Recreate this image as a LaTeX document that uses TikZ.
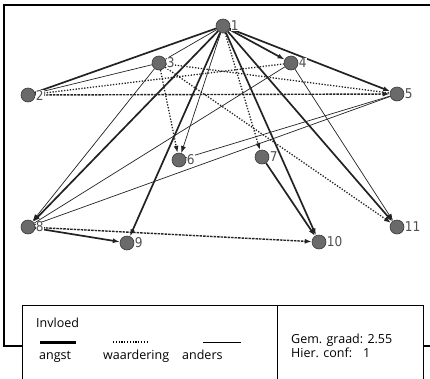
\documentclass[tikz,border=0pt]{standalone}
\usepackage{fontspec}
\setmainfont{Open Sans}
\newfontfamily\lblfont[FakeStretch=0.9]{DejaVu Sans}
\usetikzlibrary{arrows.meta}
\pgfdeclarelayer{bg}
\pgfsetlayers{bg,main}
\definecolor{nodegray}{HTML}{6A6A6A}
\definecolor{nodeedge}{HTML}{3A3A3A}
\definecolor{lblgray}{HTML}{505050}
\definecolor{edgecol}{HTML}{222222}
\begin{document}
\begin{tikzpicture}[x=1pt,y=-1pt,
  vtx/.style={circle, fill=nodegray, draw=nodeedge, line width=0.6pt, minimum size=14pt, inner sep=0pt},
  lbl/.style={fill=white, inner sep=0.4pt, text=lblgray, font=\lblfont\fontsize{13.5}{13.5}\selectfont},
  angst/.style={line width=1.7pt, draw=edgecol},
  anders/.style={line width=0.7pt, draw=edgecol},
  waard/.style={line width=1.3pt, draw=edgecol, dash pattern=on 1.3pt off 1.6pt},
  waarddash/.style={line width=1.4pt, draw=edgecol, dash pattern=on 2.5pt off 1pt},
  arr/.style={-{Latex[length=7pt,width=5pt]}},
  legtext/.style={font=\fontsize{12.5}{14}\selectfont, inner sep=0pt, anchor=base west},
]
\useasboundingbox (0,0) rectangle (430,378);
\clip (0,0) rectangle (430,378);

\node[vtx, label={[lbl]right:1}]  (n1)  at (223,26) {};
\node[vtx, label={[lbl]right:2}]  (n2)  at (28,95) {};
\node[vtx, label={[lbl]right:3}]  (n3)  at (159,63) {};
\node[vtx, label={[lbl]right:4}]  (n4)  at (291,63) {};
\node[vtx, label={[lbl]right:5}]  (n5)  at (397,94) {};
\node[vtx, label={[lbl]right:6}]  (n6)  at (179,160) {};
\node[vtx, label={[lbl]right:7}]  (n7)  at (262,157) {};
\node[vtx, label={[lbl]right:8}]  (n8)  at (28,227) {};
\node[vtx, label={[lbl]right:9}]  (n9)  at (127,243) {};
\node[vtx, label={[lbl]right:10}] (n10) at (319,242) {};
\node[vtx, label={[lbl]right:11}] (n11) at (397,227) {};

\begin{pgfonlayer}{bg}
\draw[line width=1.4pt] (440,5) -- (4,5) -- (4,346) -- (440,346);
\draw[angst] (n1) -- (n2);
\draw[anders] (n1) -- (n3);
\draw[angst,arr] (n1) -- (n4);
\draw[angst,arr] (n1) -- (n5);
\draw[anders,arr] (n1) -- (n6);
\draw[waard,arr] (n1) -- (n7);
\draw[angst,arr] (n1) -- (n8);
\draw[angst,arr] (n1) -- (n9);
\draw[angst,arr] (n1) -- (n10);
\draw[angst,arr] (n1) -- (n11);
\draw[anders] (n2) -- (n3);
\draw[waard] (n2) -- (n4);
\draw[waarddash,arr] (n2) -- (n5);
\draw[waard] (n3) -- (n5);
\draw[waard,arr] (n3) -- (n6);
\draw[anders,arr] (n3) -- (n8);
\draw[waard,arr] (n3) -- (n11);
\draw[anders] (n4) -- (n8);
\draw[anders,arr] (n4) -- (n11);
\draw[anders] (n5) -- (n6);
\draw[anders] (n5) -- (n8);
\draw[angst,arr] (n7) -- (n10);
\draw[angst,arr] (n8) -- (n9);
\draw[waarddash,arr] (n8) -- (n10);
\end{pgfonlayer}

% legend
\draw[fill=white, line width=0.8pt] (22,305) rectangle (423,390);
\draw[line width=0.8pt] (277,305) -- (277,390);
\node[legtext] (inv) at (36,327) {Invloed};
\draw[line width=3pt] (40,342) -- (76,342);
\draw[line width=1.2pt, dash pattern=on 1.2pt off 1.6pt] (113,342) -- (147,342);
\draw[line width=0.8pt] (203,342) -- (241,342);
\node[legtext] (la) at (39,359) {angst};
\node[legtext] (lw) at (103,359) {waardering};
\node[legtext] (lo) at (182,359) {anders};
\node[legtext] (gg) at (291,343) {Gem. graad: 2.55};
\node[legtext] (hc) at (291,357) {Hier. conf:};
\node[legtext] (hv) at (363,357) {1};
\end{tikzpicture}
\end{document}
